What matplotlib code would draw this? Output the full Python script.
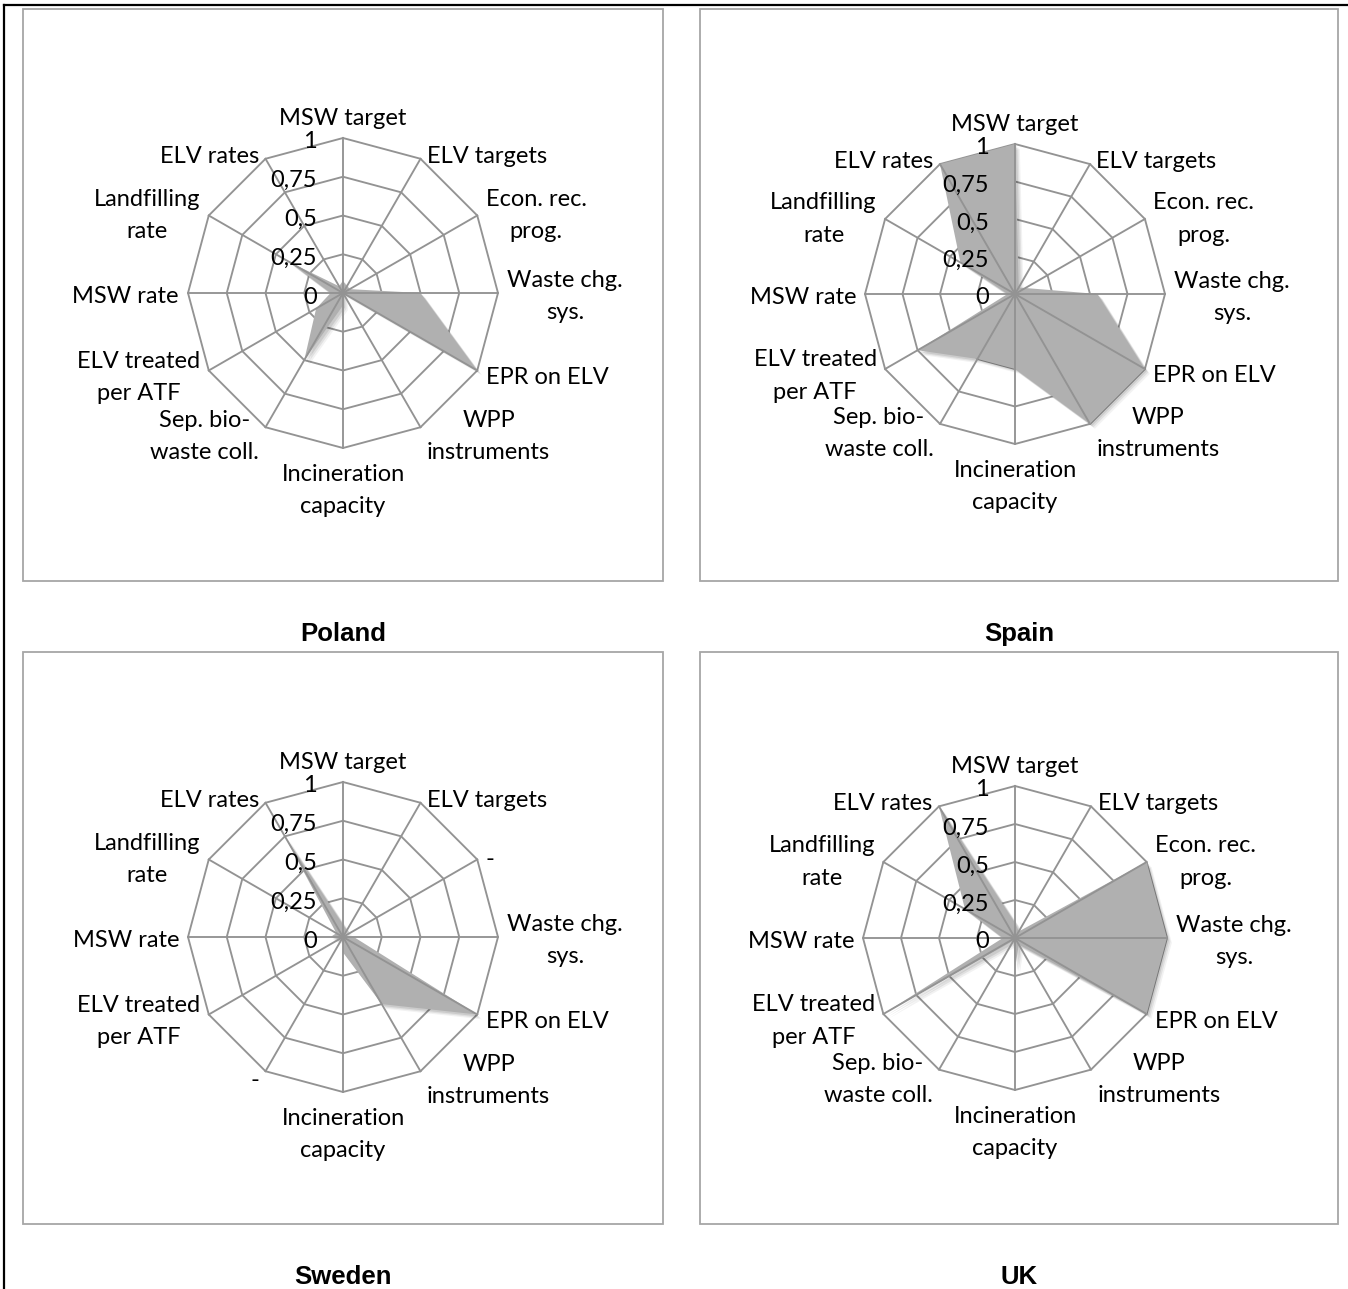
import numpy as np
import matplotlib
matplotlib.use("Agg")
import matplotlib.pyplot as plt
from matplotlib import patheffects as pe
from matplotlib.lines import Line2D
from matplotlib.patches import Rectangle

# ---- data -------------------------------------------------------------
categories = ["MSW target", "ELV targets", "Econ. rec.\nprog.", "Waste chg.\nsys.",
              "EPR on ELV", "WPP\ninstruments", "Incineration\ncapacity",
              "Sep. bio-\nwaste coll.", "ELV treated\nper ATF", "MSW rate",
              "Landfilling\nrate", "ELV rates"]
sweden_categories = ["MSW target", "ELV targets", "-", "Waste chg.\nsys.",
                     "EPR on ELV", "WPP\ninstruments", "Incineration\ncapacity",
                     "-", "ELV treated\nper ATF", "MSW rate",
                     "Landfilling\nrate", "ELV rates"]

poland = [0.08, 0.05, 0.05, 0.50, 1.00, 0.00, 0.08, 0.50, 0.20, 0.08, 0.40, 0.05]
spain  = [1.00, 0.05, 0.08, 0.55, 1.00, 1.00, 0.50, 0.50, 0.75, 0.05, 0.42, 1.00]
sweden = [0.08, 0.05, 0.00, 0.07, 1.00, 0.50, 0.10, 0.00, 0.03, 0.08, 0.05, 0.75]
uk     = [0.10, 0.05, 1.00, 1.00, 1.00, 0.05, 0.20, 0.02, 1.00, 0.08, 0.38, 1.00]

countries = ["Poland", "Spain", "Sweden", "UK"]
radial_ticks = [0, 0.25, 0.5, 0.75, 1]
radial_labels = ["0", "0,25", "0,5", "0,75", "1"]

# ---- style ------------------------------------------------------------
W, H = 1348, 1289
FONT = ["Lato", "DejaVu Sans"]
TITLE_FONT = ["Liberation Sans Narrow", "Liberation Sans", "DejaVu Sans"]
GRID = "#939393"
FILL = "#b0b0b0"
LABEL_SIZE = 17
TITLE_SIZE = 18.5

fig = plt.figure(figsize=(W / 100, H / 100), dpi=100)
fig.patch.set_facecolor("white")


def fx(px):
    return px / W


def fy(py):
    return 1 - py / H


# outer frame lines (top and left)
fig.add_artist(Line2D([fx(4), 1.0], [fy(5), fy(5)], color="black", lw=1.6))
fig.add_artist(Line2D([fx(4), fx(4)], [fy(5), 0.0], color="black", lw=1.6))

panels = [
    dict(name="Poland", values=poland, labels=categories, center=(343, 293), radius=155,
         box=(23, 9, 663, 581), title_y=634),
    dict(name="Spain", values=spain, labels=categories, center=(1015, 294), radius=150,
         box=(700, 9, 1338, 581), title_y=634),
    dict(name="Sweden", values=sweden, labels=sweden_categories, center=(343, 937), radius=155,
         box=(23, 652, 663, 1224), title_y=1277),
    dict(name="UK", values=uk, labels=categories, center=(1015, 938), radius=152,
         box=(700, 652, 1338, 1224), title_y=1277),
]

n = len(categories)
theta = np.linspace(0, 2 * np.pi, n, endpoint=False)
theta_closed = np.append(theta, theta[0])

for p in panels:
    x0, y0, x1, y1 = p["box"]
    fig.add_artist(Rectangle((fx(x0), fy(y1)), fx(x1) - fx(x0), fy(y0) - fy(y1),
                             transform=fig.transFigure, fill=False,
                             edgecolor="#a6a6a6", lw=1.3))
    fig.text(fx((x0 + x1) / 2), fy(p["title_y"]), p["name"], ha="center", va="center",
             fontsize=TITLE_SIZE, fontweight="bold", family=TITLE_FONT)

    cx, cy = p["center"]
    r = p["radius"]
    ax = fig.add_axes([fx(cx - r), fy(cy + r), fx(2 * r), fy(cy - r) - fy(cy + r)],
                      projection="polar")
    ax.set_theta_zero_location("N")
    ax.set_theta_direction(-1)
    ax.set_ylim(0, 1)
    ax.set_xticks([])
    ax.set_yticks([])
    ax.grid(False)
    ax.spines["polar"].set_visible(False)
    ax.patch.set_alpha(0)

    # polygon rings below the series
    for rv in radial_ticks[1:]:
        ax.plot(theta_closed, [rv] * (n + 1), color=GRID, lw=1.35, zorder=1, clip_on=False)

    vals = np.append(p["values"], p["values"][0])
    poly = ax.fill(theta_closed, vals, color=FILL, lw=0, zorder=2, clip_on=False)[0]
    poly.set_path_effects([
        pe.SimplePatchShadow(offset=(3.5, -3.5), shadow_rgbFace="black", alpha=0.05),
        pe.SimplePatchShadow(offset=(2.5, -2.5), shadow_rgbFace="black", alpha=0.07),
        pe.SimplePatchShadow(offset=(1.5, -1.5), shadow_rgbFace="black", alpha=0.09),
        pe.Normal(),
    ])

    # spokes drawn over the series
    for t in theta:
        ax.plot([t, t], [0, 1], color=GRID, lw=1.35, zorder=3, clip_on=False)

    # radial value labels along the first spoke
    for rv, lab in zip(radial_ticks, radial_labels):
        ax.annotate(lab, xy=(0, rv), xytext=(-26, -4), textcoords="offset pixels",
                    ha="right", va="center", fontsize=LABEL_SIZE, family=FONT,
                    annotation_clip=False, zorder=4)

    # category labels around the outer ring
    for t, lab in zip(theta, p["labels"]):
        a = np.degrees(t)
        s, c = np.sin(t), np.cos(t)
        if np.isclose(a, 0):
            ha, va, dx, dy = "center", "bottom", 0, 9
        elif np.isclose(a, 180):
            ha, va, dx, dy = "center", "top", 0, -16
        else:
            gap = 4 + 5 * abs(s)
            dy = 7 * c - 3.5
            if s > 0:
                ha, dx = "left", gap
            else:
                ha, dx = "right", -gap
            va = "center"
        ax.annotate(lab, xy=(t, 1), xytext=(dx, dy), textcoords="offset pixels",
                    ha=ha, va=va, multialignment="center", linespacing=1.65,
                    fontsize=LABEL_SIZE, family=FONT, annotation_clip=False, zorder=4)

fig.savefig("out.png", dpi=100, facecolor="white")
